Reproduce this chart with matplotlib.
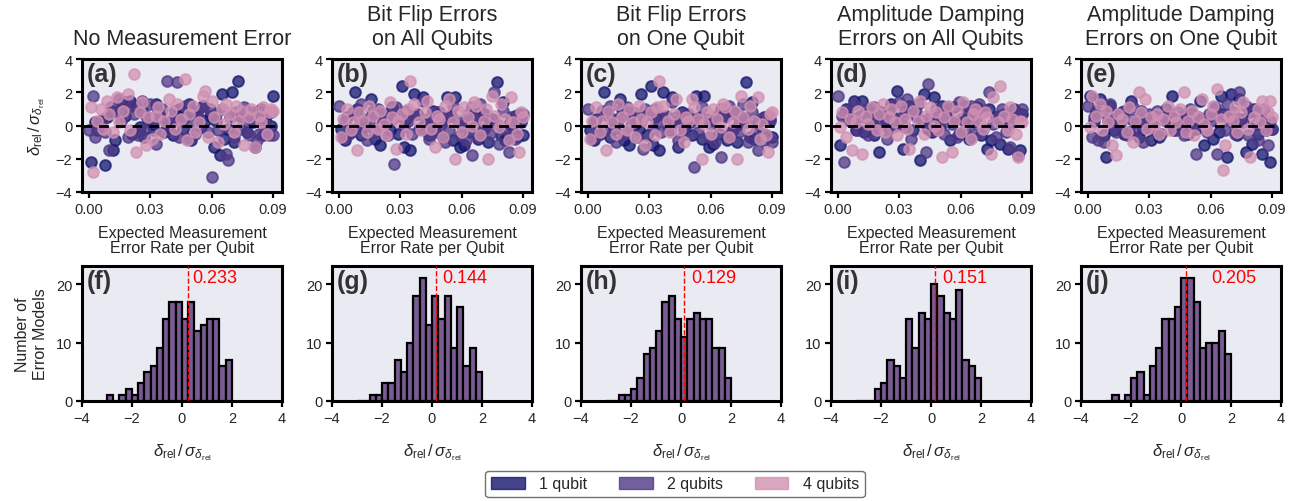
import numpy as np
import matplotlib
matplotlib.use("Agg")
import matplotlib.pyplot as plt
from matplotlib.patches import Patch

plt.rcParams['font.family'] = ['Liberation Sans', 'DejaVu Sans']
plt.rcParams['mathtext.fontset'] = 'custom'
plt.rcParams['mathtext.rm'] = 'Liberation Sans'
plt.rcParams['mathtext.it'] = 'Liberation Sans:italic'

# ---- data -------------------------------------------------------------
titles = ["No Measurement Error", "Bit Flip Errors\non All Qubits", "Bit Flip Errors\non One Qubit",
          "Amplitude Damping\nErrors on All Qubits", "Amplitude Damping\nErrors on One Qubit"]
top_labels = ["(a)", "(b)", "(c)", "(d)", "(e)"]
bot_labels = ["(f)", "(g)", "(h)", "(i)", "(j)"]
series_names = ["1 qubit", "2 qubits", "4 qubits"]

# expected measurement error rate per qubit of each error model
x1 = [0.001, 0.003, 0.004, 0.006, 0.008, 0.009, 0.011, 0.012, 0.013, 0.016,
      0.017, 0.018, 0.020, 0.021, 0.023, 0.025, 0.026, 0.027, 0.029, 0.031,
      0.032, 0.033, 0.035, 0.037, 0.038, 0.040, 0.041, 0.042, 0.044, 0.046,
      0.047, 0.049, 0.050, 0.051, 0.053, 0.055, 0.056, 0.057, 0.059, 0.061,
      0.062, 0.064, 0.065, 0.066, 0.068, 0.070, 0.071, 0.073, 0.074, 0.075,
      0.077, 0.079, 0.080, 0.081, 0.083, 0.085, 0.086, 0.087, 0.089, 0.090]
x2 = [0.000, 0.002, 0.003, 0.005, 0.007, 0.008, 0.010, 0.011, 0.014, 0.015,
      0.016, 0.018, 0.019, 0.021, 0.022, 0.024, 0.026, 0.027, 0.028, 0.030,
      0.032, 0.033, 0.034, 0.036, 0.038, 0.039, 0.041, 0.043, 0.044, 0.045,
      0.047, 0.048, 0.050, 0.052, 0.053, 0.054, 0.056, 0.058, 0.059, 0.060,
      0.062, 0.063, 0.065, 0.067, 0.068, 0.069, 0.071, 0.072, 0.074, 0.076,
      0.077, 0.078, 0.080, 0.082, 0.083, 0.084, 0.086, 0.088, 0.089, 0.090]
x4 = [0.001, 0.002, 0.004, 0.006, 0.007, 0.009, 0.010, 0.012, 0.014, 0.015,
      0.017, 0.019, 0.020, 0.022, 0.023, 0.025, 0.026, 0.028, 0.029, 0.031,
      0.033, 0.034, 0.035, 0.037, 0.039, 0.040, 0.042, 0.043, 0.045, 0.047,
      0.048, 0.049, 0.051, 0.052, 0.054, 0.056, 0.057, 0.058, 0.060, 0.061,
      0.063, 0.065, 0.066, 0.067, 0.069, 0.071, 0.072, 0.073, 0.075, 0.076,
      0.078, 0.079, 0.081, 0.083, 0.084, 0.085, 0.087, 0.088, 0.089, 0.090]

# delta_rel / sigma for each panel (a)-(e), per number of qubits
a1 = [-2.2, 0.2, -0.3, 0.3, -2.4, 0.5, 0.9, -1.5, -0.9, 1.0, 1.4, 0.6, 1.5, -0.5, 1.2, -0.1, 0.9, -0.7, 0.4, 0.1,
      -0.3, 1.3, 0.5, -0.4, 0.0, 0.2, -0.6, 0.9, 1.0, -0.2, 0.5, 1.3, -0.9, 0.8, 0.7, -0.1, 1.2, 0.3, 0.6, -1.3,
      0.3, -1.8, 1.9, -0.8, -0.2, 2.0, -1.0, 2.7, 0.6, 0.9, -0.4, 0.6, 0.2, -1.3, 0.9, -0.6, 0.4, 0.7, 0.0, 1.8]
a2 = [-0.3, 1.8, -0.7, 0.1, 0.4, -0.4, -1.5, 1.1, 0.8, 1.6, 0.3, 1.4, -0.7, 1.2, 0.7, -0.6, 1.5, -0.2, 0.6, 1.3,
      0.2, -1.1, 0.9, 1.0, 2.7, -0.3, 0.4, 2.6, -0.7, 0.3, 1.2, -0.8, 0.1, -0.5, 0.9, 0.4, 1.2, -0.4, 1.0, -3.1,
      0.7, -0.3, 1.0, -1.7, -2.1, 0.5, -0.7, 0.8, -0.2, 1.1, 0.3, -0.6, 0.8, -0.9, -0.5, 1.0, 0.1, -0.6, 0.8, -0.6]
a4 = [1.1, -2.8, 0.3, 1.0, -0.2, 1.5, 0.7, -0.4, 1.7, 0.2, 0.9, 1.9, -0.3, 3.1, -1.6, 0.8, 1.4, -1.2, 0.5, -0.8,
      0.6, 1.1, -0.5, 0.3, 1.6, 0.9, -0.2, 1.3, 0.4, 2.8, -0.9, 0.7, 1.2, -0.4, 0.2, 1.8, 2.1, -0.7, 1.5, 0.5,
      -1.0, 1.0, 0.1, 1.3, 0.7, -0.4, 1.2, 0.3, 0.9, -1.2, 0.5, 1.0, -1.3, 0.6, 0.2, 1.1, -0.5, 0.8, 1.0, 0.9]

b1 = [-0.2, -0.9, 0.5, -0.4, 2.0, 1.0, -0.6, 0.3, -0.1, 1.6, 0.9, -0.8, -1.2, 0.6, 0.2, -0.3, 1.1, 0.5, -0.5, 2.4,
      -1.3, 0.4, -1.5, 1.9, 0.7, -0.2, 1.7, 0.1, -0.6, 0.9, -0.3, 0.8, 0.3, -0.7, 1.7, 0.6, -0.9, 1.7, -1.3, -1.2,
      0.2, -0.4, 1.1, 0.5, -0.8, -0.3, 0.7, -1.0, 0.2, 0.4, 2.6, -0.6, 1.4, -0.9, 0.1, -0.4, 0.6, -0.7, 0.3, -0.6]
b2 = [1.2, -0.7, 0.3, -0.5, 0.8, -0.2, 0.5, 1.3, -0.9, 0.2, 0.6, -0.4, 1.0, 0.1, 0.7, -0.6, 0.4, -2.3, 1.1, 0.6,
      -0.1, 0.9, 0.3, -0.5, 0.7, -0.2, 1.5, 0.4, -0.8, 0.2, -0.4, 0.8, 0.1, -1.0, 0.5, -0.3, 1.2, 0.3, -0.6, 0.0,
      -0.9, 0.7, -1.8, 0.4, -0.7, 1.3, -0.2, 0.6, -0.5, 2.0, 0.1, -1.1, 0.9, -0.3, -1.6, 0.5, -0.8, 0.7, 0.2, 0.7]
b4 = [-0.7, 0.4, 1.0, -0.3, 0.2, -1.5, 0.8, 0.3, -0.4, 1.2, 0.6, -0.2, 0.9, 0.1, -0.6, 1.4, 0.5, -1.4, 0.3, 0.7,
      -0.5, 1.0, 2.7, 1.3, 0.2, -0.3, 0.8, 1.5, -0.2, -1.3, 0.6, 0.4, -0.7, 1.2, 1.6, 0.2, -2.0, 0.9, -0.4, 1.1,
      0.5, 0.0, 1.4, 1.2, -0.6, 0.3, 1.0, -2.0, 1.8, 0.6, -0.1, 1.3, 0.4, -0.9, 1.7, 0.2, -0.5, -1.6, 0.8, 0.5]

c1 = [-0.3, -0.9, 0.4, -0.5, 2.0, 0.9, -0.7, 0.4, -0.2, 1.6, 1.0, -0.9, -1.2, 0.5, 0.1, -0.2, 1.9, 0.6, -0.6, 2.4,
      -1.2, 0.5, -1.5, 2.0, 0.6, -0.3, 1.7, 0.2, -1.3, 0.8, -0.2, 0.7, 0.2, -0.6, 1.8, 0.5, -0.8, 1.8, -1.3, -1.1,
      0.3, -0.5, 1.0, 0.6, -0.9, -0.4, 0.8, -1.0, 0.1, 0.5, 2.6, -0.7, 1.4, -0.8, 0.2, -0.5, 0.5, -0.6, 0.4, -0.7]
c2 = [1.0, -0.8, 0.2, -0.6, 0.9, -0.3, 0.6, 1.2, -1.0, 0.3, 0.5, -0.5, 1.1, 0.0, 0.8, -0.7, 0.3, -1.4, 1.0, 0.7,
      -0.2, 1.0, 0.2, -0.4, 0.6, -0.1, 1.4, 0.5, -0.9, 0.3, -0.5, 0.7, 0.2, -2.5, 0.4, -0.4, 1.1, 0.4, -0.7, 0.1,
      -1.0, 0.6, -1.9, 0.5, -0.6, 1.2, -0.3, 0.7, -0.4, 1.3, 0.2, -1.0, 0.8, -0.4, -1.5, 0.4, -0.9, 0.6, 0.3, -1.0]
c4 = [-0.8, 0.3, 1.1, -0.4, 0.3, -1.5, 0.9, 0.2, -0.5, 1.3, 0.5, -0.3, 1.0, 0.2, -0.7, 1.2, 0.4, -1.2, 0.2, 0.8,
      -0.6, 1.1, 2.7, 1.2, 0.3, -0.4, 0.7, 1.6, -0.3, -1.0, 0.5, 0.3, 1.6, 1.1, 0.4, -2.0, 0.1, 0.8, -0.5, 1.0,
      0.4, -0.1, 1.3, 1.1, -0.7, 0.2, 0.9, -2.0, 1.8, 0.5, -0.2, 1.2, 0.3, 1.7, -0.8, 0.1, -0.6, -1.6, 0.7, 0.8]

d1 = [-1.2, 0.7, 1.0, 0.3, 1.5, -0.3, 0.6, 1.5, -0.4, 0.9, 0.2, -0.6, -1.6, 0.8, 0.4, -0.2, 1.3, 0.5, 2.1, 0.1,
      -1.4, 0.9, 1.2, -0.3, 0.6, -2.1, 0.3, 1.9, -0.2, -0.4, 1.7, 0.5, -0.1, 1.2, 0.8, -0.9, 0.3, 1.1, -0.5, 0.4,
      1.2, -0.8, 0.6, 0.2, 1.1, -0.6, 0.9, -1.4, 1.0, -0.9, 0.5, -1.1, 0.3, 0.7, -1.4, 0.2, 1.0, 0.8, -1.5, 0.7]
d2 = [1.8, 0.6, -2.2, 0.9, 0.2, 1.3, -0.3, 0.5, 1.0, -0.6, 0.2, 1.1, -0.2, 0.7, 0.3, -0.8, 1.2, 0.4, 0.0, 1.4,
      0.6, -0.1, 1.6, -0.8, 0.8, 1.3, 0.2, -1.6, 2.5, 0.5, -0.3, 1.0, 0.3, -0.5, 0.7, 1.1, 0.1, -0.7, 1.4, 0.4,
      -0.3, 0.8, 1.2, -0.5, 0.5, 1.3, -0.2, 0.9, 2.0, 0.1, -0.7, 0.6, 1.0, -0.4, 0.3, -1.3, 0.9, -1.8, 0.6, 1.0]
d4 = [-0.1, 0.8, -0.7, 0.4, -1.5, 0.2, 0.9, -1.7, 0.6, 0.1, 1.1, -0.3, 0.7, 1.3, -0.4, 0.5, 1.0, 0.2, -0.6, 1.2,
      0.4, -0.2, -1.4, 0.9, 0.3, 1.5, -0.5, 0.6, 1.1, 0.0, 0.8, -0.3, -1.9, 0.5, 1.2, -1.6, 0.3, 0.9, -0.4, 1.4,
      0.2, -0.8, 0.7, 1.0, 0.3, -0.2, 0.8, 0.5, -1.7, 1.7, 0.2, 2.4, 0.6, -0.3, 1.1, 0.4, -0.5, -1.9, 0.3, 0.2]

e1 = [1.8, 0.3, 0.9, 1.6, -0.6, -1.9, 1.2, 0.4, -0.3, 0.7, 0.8, -0.5, -0.4, 1.5, 0.2, -0.7, 0.9, -0.2, 0.5, -0.9,
      0.3, 0.6, -0.7, 0.4, 1.0, 0.2, 1.8, -0.3, 0.5, 0.0, 0.6, -0.5, 0.3, 0.7, -0.2, 1.5, 0.4, -1.2, 0.6, -0.8,
      1.0, -0.4, 1.8, 0.7, -1.9, 1.9, 0.2, -0.6, 1.6, 0.4, -1.6, 0.8, -1.1, 1.0, -0.5, -1.7, 0.3, -0.3, -2.2, -0.2]
e2 = [1.2, -0.7, 0.5, -0.9, 0.8, -1.0, 0.3, 1.3, -0.4, 0.6, 0.1, 0.9, -0.6, 0.4, 1.1, -0.3, 0.5, -1.0, 0.2, 0.7,
      -0.2, 0.4, 0.9, -0.5, 0.3, 0.6, 0.1, -0.3, 0.8, 0.2, -0.6, 0.4, 1.0, -0.1, -1.7, 0.5, 0.2, -0.4, 0.7, 0.3,
      1.1, -1.7, 0.6, -0.3, 1.3, 0.4, 0.8, -0.5, 2.0, 0.2, 1.2, -0.6, 0.9, 0.1, -0.9, 0.5, 1.0, -1.2, 0.3, -0.2]
e4 = [-0.1, 1.8, 0.6, 1.3, -0.3, 0.9, 0.2, -1.2, -1.8, 0.7, 0.4, -0.4, 1.1, -1.0, 0.3, 2.0, 0.8, 1.6, -0.2, 0.5,
      0.1, 0.7, -0.5, 0.4, 1.2, -0.3, 0.6, 0.2, 1.0, 2.0, -0.4, 0.3, 0.9, -0.6, 0.5, 1.6, 0.1, -0.3, 0.7, 1.2,
      2.2, 0.4, -2.7, -1.2, 0.6, 0.3, 1.1, -0.4, 0.8, 1.4, -0.2, -1.9, 0.5, 1.0, 0.2, 1.5, -0.3, 0.8, 1.5, 0.5]

scatter_y = [(a1, a2, a4), (b1, b2, b4), (c1, c2, c4), (d1, d2, d4), (e1, e2, e4)]

# histograms (f)-(j): counts per bin of width 0.25
hist_edges = [-3.0, -2.75, -2.5, -2.25, -2.0, -1.75, -1.5, -1.25, -1.0, -0.75, -0.5,
              -0.25, 0.0, 0.25, 0.5, 0.75, 1.0, 1.25, 1.5, 1.75, 2.0]
f_counts = [1, 0, 1, 2, 1, 3, 5, 6, 9, 14, 17, 17, 14, 17, 12, 13, 14, 14, 6, 7]
g_counts = [0, 0, 1, 1, 3, 3, 7, 5, 10, 18, 21, 13, 18, 14, 18, 9, 16, 6, 9, 5]
h_counts = [0, 0, 1, 1, 2, 4, 8, 9, 12, 17, 18, 14, 11, 14, 15, 14, 14, 9, 9, 4]
i_counts = [0, 0, 0, 2, 3, 7, 6, 4, 14, 9, 15, 14, 20, 18, 15, 14, 19, 7, 6, 4]
j_counts = [0, 1, 0, 1, 4, 5, 1, 6, 9, 14, 14, 16, 21, 21, 17, 9, 10, 10, 12, 8]
hist_counts = [f_counts, g_counts, h_counts, i_counts, j_counts]
means = [0.233, 0.144, 0.129, 0.151, 0.205]
mean_text_x = [0.43, 0.40, 0.39, 0.45, 1.22]

# ---- style -------------------------------------------------------------
colors = ['#15156e', '#4f3886', '#d191b2']
hist_color = '#7a5b94'
bg = '#eaeaf2'
tcol = '0.15'

W, H = 1305, 502
fig = plt.figure(figsize=(W / 100, H / 100), dpi=100)


def rect(l, t, r, b):
    return [l / W, 1 - b / H, (r - l) / W, (b - t) / H]


def style(ax):
    ax.set_facecolor(bg)
    for s in ax.spines.values():
        s.set_color('k')
        s.set_linewidth(2.2)
    ax.tick_params(direction='out', length=4, width=1.6, color='k',
                   labelcolor=tcol, labelsize=10.5, pad=3)


lefts = [82, 332, 581, 831, 1081]
ratio_lbl = r'$\delta_{\rm rel}\,/\,\sigma_{\delta_{\rm rel}}$'

for i in range(5):
    l = lefts[i]
    ax = fig.add_axes(rect(l, 60, l + 200, 193))
    style(ax)
    xs = (x1, x2, x4)
    for k in range(3):
        ax.scatter(xs[k], scatter_y[i][k], s=60, color=colors[k], edgecolor=colors[k],
                   linewidth=1.4, alpha=0.75, zorder=2 + k)
    ax.axhline(0, color='k', ls='--', lw=2, dashes=(3.5, 2.5), zorder=6)
    ax.set_xlim(-0.0032, 0.0943)
    ax.set_ylim(-4, 4)
    ax.set_xticks([0.0, 0.03, 0.06, 0.09])
    ax.set_xticklabels(['0.00', '0.03', '0.06', '0.09'])
    ax.set_yticks([-4, -2, 0, 2, 4])
    ax.set_yticklabels(['\u22124', '\u22122', '0', '2', '4'])
    ax.set_title(titles[i], fontsize=15.5, color=tcol, pad=11, linespacing=1.2)
    ax.set_xlabel('Expected Measurement\nError Rate per Qubit', fontsize=11.5,
                  color=tcol, linespacing=0.95, labelpad=7)
    ax.text(0.025, 0.975, top_labels[i], transform=ax.transAxes, fontsize=18,
            fontweight='bold', color='0.2', va='top', ha='left', zorder=7)
    if i == 0:
        ax.set_ylabel(ratio_lbl, fontsize=12, color=tcol, labelpad=6)

    hx = fig.add_axes(rect(l, 267, l + 200, 402))
    style(hx)
    hx.hist(hist_edges[:-1], bins=hist_edges, weights=hist_counts[i], color=hist_color,
            edgecolor='k', linewidth=1.6, zorder=2)
    hx.axvline(means[i], color='red', ls='--', lw=1, zorder=3)
    hx.text(mean_text_x[i], 21.2, f'{means[i]:.3f}', color='red', fontsize=13,
            va='center', ha='left')
    hx.set_xlim(-4, 4)
    hx.set_ylim(0, 23.1)
    hx.set_xticks([-4, -2, 0, 2, 4])
    hx.set_xticklabels(['\u22124', '\u22122', '0', '2', '4'])
    hx.set_yticks([0, 10, 20])
    hx.set_xlabel(ratio_lbl, fontsize=12, color=tcol, labelpad=12)
    hx.text(0.025, 0.975, bot_labels[i], transform=hx.transAxes, fontsize=18,
            fontweight='bold', color='0.2', va='top', ha='left', zorder=7)
    if i == 0:
        hx.set_ylabel('Number of\nError Models', fontsize=11.5, color=tcol, labelpad=6)

handles = [Patch(facecolor=c, edgecolor=c, alpha=0.8) for c in colors]
fig.legend(handles, series_names, loc='center', bbox_to_anchor=(675 / W, 1 - 485 / H),
           ncol=3, fontsize=11.5, handlelength=2.1, handleheight=0.8, handletextpad=0.9,
           columnspacing=2.0, frameon=True, edgecolor='0.3', fancybox=True,
           borderpad=0.35, labelcolor=tcol)

fig.savefig('out.png', dpi=100)
